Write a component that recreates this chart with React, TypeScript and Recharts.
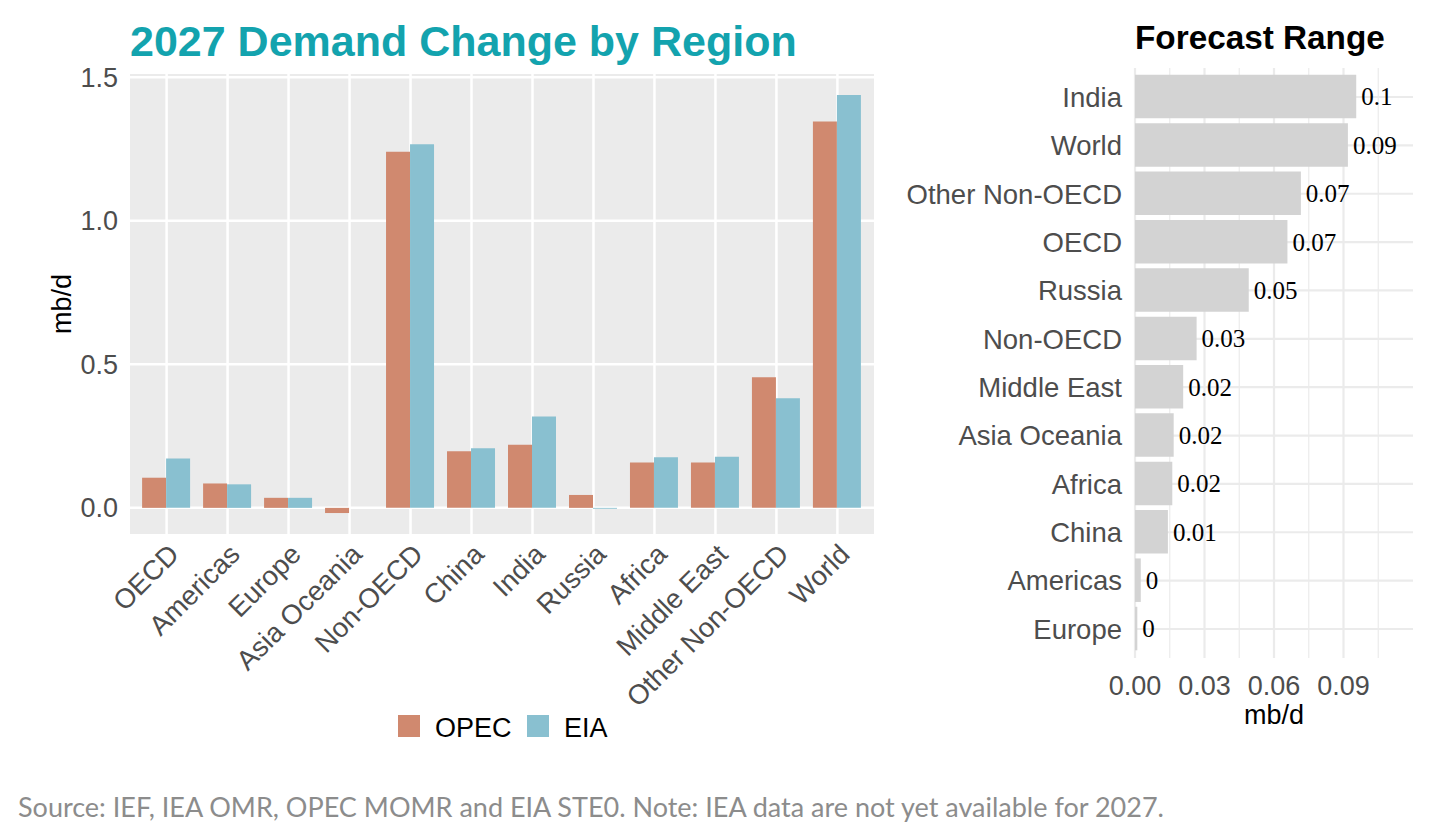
import React from "react";
import { BarChart, Bar, XAxis, YAxis, CartesianGrid, LabelList } from "recharts";

const regions = ["OECD", "Americas", "Europe", "Asia Oceania", "Non-OECD", "China", "India", "Russia", "Africa", "Middle East", "Other Non-OECD", "World"];
const opecValues = [0.105, 0.085, 0.035, -0.018, 1.24, 0.197, 0.22, 0.045, 0.158, 0.158, 0.455, 1.346];
const eiaValues = [0.172, 0.082, 0.035, 0, 1.266, 0.208, 0.318, -0.003, 0.176, 0.178, 0.382, 1.438];
const demandTicks = [0, 0.5, 1.0, 1.5];

const rangeRegions = ["India", "World", "Other Non-OECD", "OECD", "Russia", "Non-OECD", "Middle East", "Asia Oceania", "Africa", "China", "Americas", "Europe"];
const rangeValues = [0.0955, 0.0919, 0.0716, 0.0658, 0.0491, 0.0266, 0.0208, 0.0167, 0.0161, 0.0142, 0.0025, 0.001];
const rangeTicks = [0, 0.03, 0.06, 0.09];
const rangeMinorTicks = [0.015, 0.045, 0.075, 0.105];

const SANS = "'Liberation Sans', Arial, sans-serif";
const SERIF = "'Liberation Serif', 'Times New Roman', serif";
const OPEC = "#D0896F";
const EIA = "#89C0D0";
const TEAL = "#13A3AE";

const demandData = regions.map((name, i) => ({ name, opec: opecValues[i], eia: eiaValues[i] }));
const rangeData = rangeRegions.map((name, i) => ({ name, value: rangeValues[i] }));

function RotatedTick({ x, y, payload }: any) {
  return (
    <text
      x={x}
      y={y}
      dy="0.72em"
      transform={`rotate(-45 ${x} ${y})`}
      textAnchor="end"
      fontSize={27.5}
      fontFamily={SANS}
      fill="#4D4D4D"
    >
      {payload.value}
    </text>
  );
}

export default function App() {
  return (
    <div style={{ position: "absolute", left: 0, top: 0, width: 1436, height: 840, background: "#fff", overflow: "hidden" }}>
      <div style={{ position: "absolute", left: 0, top: 0 }}>
        <BarChart
          width={900}
          height={760}
          data={demandData}
          margin={{ top: 74, right: 26, bottom: 26, left: 0 }}
          barGap={0}
        >
          <CartesianGrid fill="#EBEBEB" stroke="#FFFFFF" strokeWidth={2.5} syncWithTicks />
          <XAxis
            dataKey="name"
            type="category"
            interval={0}
            padding={{ left: 6.1, right: 6.1 }}
            axisLine={false}
            tickLine={false}
            tickSize={0}
            tickMargin={8}
            height={200}
            tick={<RotatedTick />}
          />
          <YAxis
            type="number"
            domain={[-0.091, 1.511]}
            ticks={demandTicks}
            tickFormatter={(v) => Number(v).toFixed(1)}
            axisLine={false}
            tickLine={false}
            tickSize={0}
            tickMargin={12}
            width={130}
            tick={{ fontSize: 27, fill: "#4D4D4D", fontFamily: SANS }}
          />
          <Bar dataKey="opec" fill={OPEC} barSize={24} isAnimationActive={false} />
          <Bar dataKey="eia" fill={EIA} barSize={24} isAnimationActive={false} />
        </BarChart>
      </div>

      <div style={{ position: "absolute", left: 900, top: 0 }}>
        <BarChart
          width={536}
          height={760}
          data={rangeData}
          layout="vertical"
          margin={{ top: 68, right: 23, bottom: 22, left: 0 }}
        >
          <CartesianGrid horizontal={false} verticalValues={rangeMinorTicks} stroke="#EBEBEB" strokeWidth={1.2} syncWithTicks />
          <CartesianGrid stroke="#EBEBEB" strokeWidth={2.2} syncWithTicks />
          <XAxis
            type="number"
            domain={[0, 0.12]}
            ticks={rangeTicks}
            tickFormatter={(v) => Number(v).toFixed(2)}
            axisLine={false}
            tickLine={false}
            tickSize={0}
            tickMargin={18}
            height={80}
            tick={{ fontSize: 27, fill: "#4D4D4D", fontFamily: SANS }}
          />
          <YAxis
            type="category"
            dataKey="name"
            interval={0}
            padding={{ top: 4.84, bottom: 4.84 }}
            axisLine={false}
            tickLine={false}
            tickSize={0}
            tickMargin={13}
            width={235}
            tick={{ fontSize: 27.5, fill: "#4D4D4D", fontFamily: SANS }}
          />
          <Bar dataKey="value" fill="#D3D3D3" barSize={43.5} isAnimationActive={false}>
            <LabelList
              dataKey="value"
              position="right"
              offset={5}
              formatter={(v: any) => String(Math.round(Number(v) * 100) / 100)}
              style={{ fontSize: 25, fill: "#000", fontFamily: SERIF }}
            />
          </Bar>
        </BarChart>
      </div>

      <svg width={1436} height={840} style={{ position: "absolute", left: 0, top: 0, pointerEvents: "none" }}>
        <text x={130} y={56} fontSize={43} fontWeight="bold" fill={TEAL} fontFamily={SANS}>
          2027 Demand Change by Region
        </text>
        <text x={1135} y={49} fontSize={33.3} fontWeight="bold" fill="#000" fontFamily={SANS}>
          Forecast Range
        </text>
        <text
          x={62}
          y={304}
          transform="rotate(-90 62 304)"
          textAnchor="middle"
          dominantBaseline="central"
          fontSize={27}
          fill="#000"
          fontFamily={SANS}
        >
          mb/d
        </text>
        <text x={1274} y={724} textAnchor="middle" fontSize={27} fill="#000" fontFamily={SANS}>
          mb/d
        </text>

        <rect x={398} y={715} width={22} height={22} fill={OPEC} />
        <text x={435} y={737} fontSize={27} fill="#000" fontFamily={SANS}>OPEC</text>
        <rect x={527} y={715} width={22} height={22} fill={EIA} />
        <text x={564} y={737} fontSize={27} fill="#000" fontFamily={SANS}>EIA</text>

        <text x={18} y={817} fontSize={27} fill="#8C8C8C" fontFamily="Lato, 'Open Sans', sans-serif">
          Source: IEF, IEA OMR, OPEC MOMR and EIA STE0. Note: IEA data are not yet available for 2027.
        </text>
      </svg>
    </div>
  );
}
